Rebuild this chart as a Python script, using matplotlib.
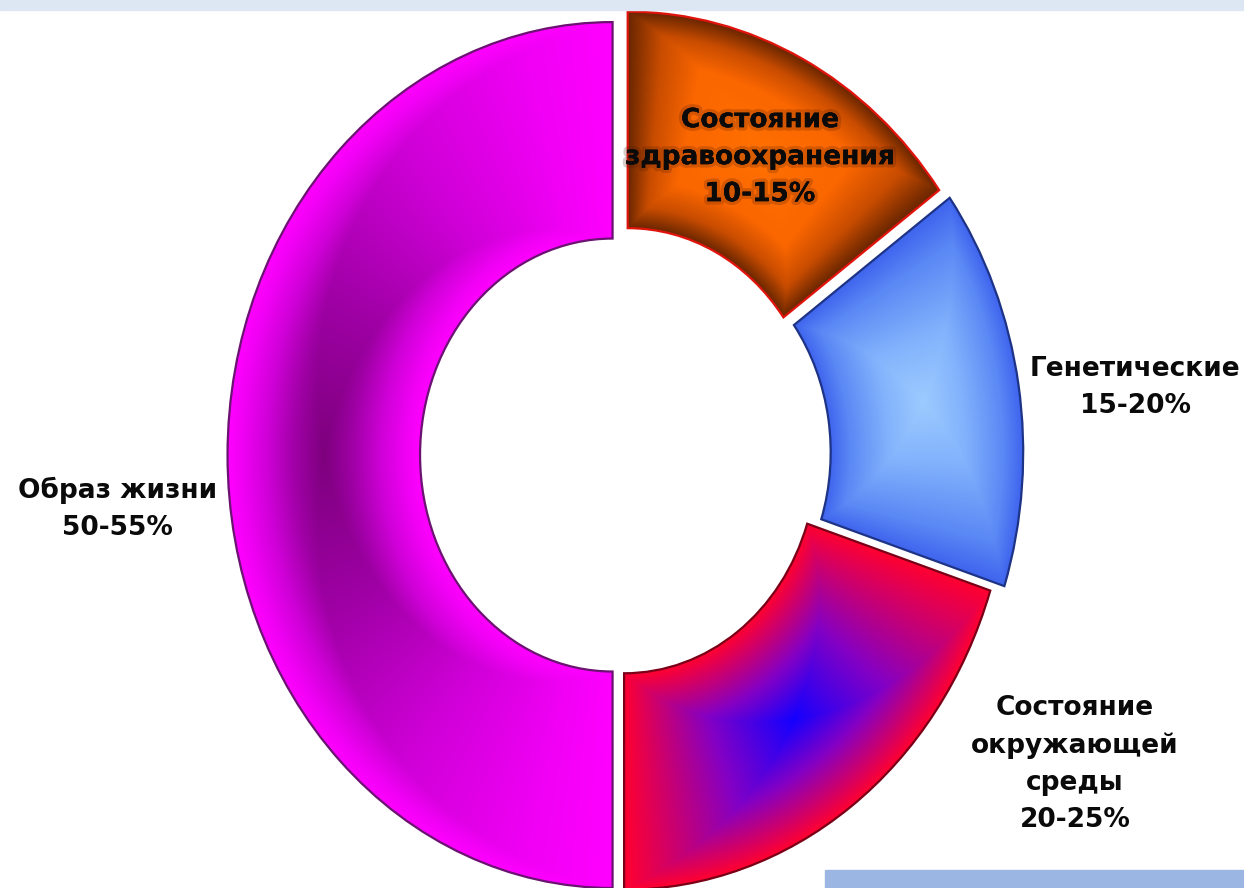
import matplotlib.pyplot as plt
import matplotlib.patheffects as pe
import numpy as np
from matplotlib.colors import LinearSegmentedColormap
from matplotlib.patches import Rectangle

# factors of health, clockwise from the top
labels = [
    "Состояние\nздравоохранения\n10-15%",
    "Генетические\n15-20%",
    "Состояние\nокружающей\nсреды\n20-25%",
    "Образ жизни\n50-55%",
]
shares = [15, 15, 20, 50]
explode = [0.027, 0.04, 0.005, 0.027]

# fill of each segment: colour stops from its middle out to its border
fill_stops = [
    [(0, "#ff7000"), (0.55, "#fa6600"), (0.8, "#c84c00"), (1, "#6a2600")],
    [(0, "#9ccbff"), (0.4, "#82b2fc"), (0.8, "#5a88f5"), (1, "#3f64ee")],
    [(0, "#1400ff"), (0.45, "#8400c4"), (1, "#ff0030")],
    [(0, "#7d007d"), (0.3, "#a000a6"), (0.6, "#d000d8"), (0.85, "#f000f4"), (1, "#ff00ff")],
]
outline_colors = ["#e0140c", "#1d3386", "#7a0018", "#6c1272"]

# label anchors (data units of the donut, radius 1)
label_pos = [(0.356, 0.688), (1.33, 0.157), (1.174, -0.714), (-1.312, -0.125)]

fig = plt.figure(figsize=(12.44, 8.88), dpi=100)
ax = fig.add_axes([0, 0, 1, 1])

wedges, _ = ax.pie(
    shares,
    explode=explode,
    startangle=90,
    counterclock=False,
    radius=1,
    wedgeprops=dict(width=0.5),
)

# background grid for the gradient fills
xlim = (-1.618, 1.613)
ylim = (-1.0, 1.051)
gx = np.linspace(xlim[0], xlim[1], 1300)
gy = np.linspace(ylim[0], ylim[1], 900)
X, Y = np.meshgrid(gx, gy)

for w, stops, oc in zip(wedges, fill_stops, outline_colors):
    cx, cy = w.center
    r_out, r_in = w.r, w.r - w.width
    mid = (w.theta1 + w.theta2) / 2
    half = (w.theta2 - w.theta1) / 2
    R = np.hypot(X - cx, Y - cy)
    phi = np.degrees(np.arctan2(Y - cy, X - cx))
    d = (phi - mid + 180) % 360 - 180
    u = np.abs(R - (r_out + r_in) / 2) / ((r_out - r_in) / 2)
    v = np.abs(d) / half
    t = np.clip(np.maximum(u, v), 0, 1)

    cmap = LinearSegmentedColormap.from_list("seg", stops)
    im = ax.imshow(t, cmap=cmap, vmin=0, vmax=1, origin="lower",
                   extent=(xlim[0], xlim[1], ylim[0], ylim[1]),
                   aspect="auto", interpolation="bilinear", zorder=2)
    im.set_clip_path(w)

    w.set_facecolor("none")
    w.set_edgecolor(oc)
    w.set_linewidth(1.6)
    w.set_zorder(3)

for i, (txt, (lx, ly)) in enumerate(zip(labels, label_pos)):
    t = ax.text(lx, ly, txt, ha="center", va="center", fontsize=19,
                fontweight="bold", color="#0a0a0a", linespacing=1.55,
                family="DejaVu Sans", zorder=4)
    if i == 0:
        t.set_path_effects([pe.withStroke(linewidth=5, foreground=(0.3, 0.1, 0, 0.22)),
                            pe.Normal()])

ax.set_aspect("auto")
ax.set_xlim(*xlim)
ax.set_ylim(*ylim)
ax.axis("off")

# slide decoration strips
fig.add_artist(Rectangle((0, 1 - 10 / 888), 1, 10 / 888, transform=fig.transFigure,
                         color="#dde6f3", zorder=10))
fig.add_artist(Rectangle((825 / 1244, 0), 419 / 1244, 18 / 888, transform=fig.transFigure,
                         color="#9bb6e2", zorder=10))

fig.savefig("out.png", dpi=100, facecolor="white")
